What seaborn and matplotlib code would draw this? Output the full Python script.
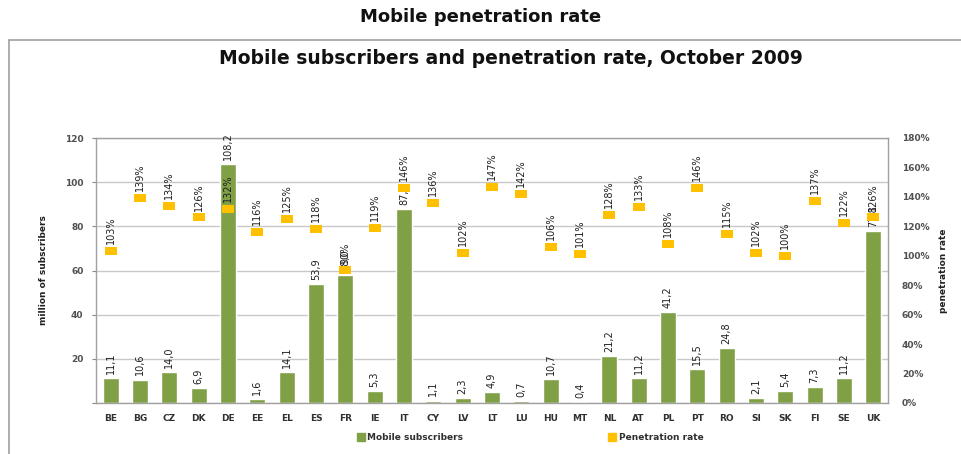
import pandas as pd
import matplotlib.pyplot as plt
import matplotlib.lines as mlines
import seaborn as sns

# data
countries = ['BE', 'BG', 'CZ', 'DK', 'DE', 'EE', 'EL', 'ES', 'FR', 'IE', 'IT', 'CY', 'LV', 'LT',
             'LU', 'HU', 'MT', 'NL', 'AT', 'PL', 'PT', 'RO', 'SI', 'SK', 'FI', 'SE', 'UK']
subscribers = [11.1, 10.6, 14.0, 6.9, 108.2, 1.6, 14.1, 53.9, 58.0, 5.3, 87.7, 1.1, 2.3, 4.9,
               0.7, 10.7, 0.4, 21.2, 11.2, 41.2, 15.5, 24.8, 2.1, 5.4, 7.3, 11.2, 77.8]
penetration = [103, 139, 134, 126, 132, 116, 125, 118, 90, 119, 146, 136, 102, 147,
               142, 106, 101, 128, 133, 108, 146, 115, 102, 100, 137, 122, 126]
left_ticks = [0, 20, 40, 60, 80, 100, 120]
right_ticks = [0, 20, 40, 60, 80, 100, 120, 140, 160, 180]

df = pd.DataFrame({'country': countries, 'subs': subscribers, 'pen': penetration})

green = '#80A046'
gold = '#FFC000'
narrow = ['Liberation Sans Narrow', 'DejaVu Sans Condensed', 'DejaVu Sans']

sns.set_style('white')
plt.rcParams['font.family'] = ['DejaVu Sans']

fig = plt.figure(figsize=(9.61, 4.54), dpi=100)
ax = fig.add_axes([96 / 961, 1 - 403 / 454, 792 / 961, 265 / 454])

# subscribers (left axis)
sns.barplot(data=df, x='country', y='subs', color=green, width=0.55, saturation=1, ax=ax)
ax.set_ylim(0, 120)
ax.set_xlim(-0.5, len(countries) - 0.5)
ax.set_yticks(left_ticks)
ax.set_yticklabels([str(t) if t else '' for t in left_ticks])
ax.yaxis.grid(True, color='#C8C8C8', lw=1)
ax.set_axisbelow(True)
ax.set_xlabel('')
ax.set_ylabel('million of subscribers', fontsize=6.5, fontweight='bold', labelpad=12,
              family=narrow, color='#202020')
ax.tick_params(axis='y', length=3, color='#888888', labelsize=6.5, labelcolor='#505050', pad=6)
ax.tick_params(axis='x', length=0, labelsize=6.5, labelcolor='#303030', pad=8)
for lab in ax.get_xticklabels() + ax.get_yticklabels():
    lab.set_fontweight('bold')
for s in ax.spines.values():
    s.set_color('#A0A0A0')
    s.set_linewidth(1)

for i, v in enumerate(subscribers):
    ax.annotate(f'{v:.1f}'.replace('.', ','), (i, v), xytext=(0, 3), textcoords='offset points',
                rotation=90, ha='center', va='bottom', fontsize=7, family=narrow, color='#202020')

# penetration rate (right axis)
ax2 = ax.twinx()
rect = [(-1.5, -1), (1.5, -1), (1.5, 1), (-1.5, 1), (-1.5, -1)]
sns.scatterplot(data=df, x='country', y='pen', marker=rect, s=70, color=gold, linewidth=0, ax=ax2)
ax2.set_ylim(0, 180)
ax2.set_yticks(right_ticks)
ax2.set_yticklabels([f'{t}%' for t in right_ticks])
ax2.set_ylabel('penetration rate', fontsize=6.5, fontweight='bold', labelpad=7,
               family=narrow, color='#202020')
ax2.tick_params(axis='y', length=0, labelsize=6.5, labelcolor='#505050', pad=10)
for lab in ax2.get_yticklabels():
    lab.set_fontweight('bold')
for s in ax2.spines.values():
    s.set_visible(False)

for i, p in enumerate(penetration):
    ax2.annotate(f'{p}%', (i, p), xytext=(0, 5), textcoords='offset points',
                 rotation=90, ha='center', va='bottom', fontsize=7, family=narrow, color='#202020')

handles = [mlines.Line2D([], [], ls='', marker='s', ms=5.5, color=green, label='Mobile subscribers'),
           mlines.Line2D([], [], ls='', marker='s', ms=5.5, color=gold, label='Penetration rate')]
leg = ax.legend(handles=handles, loc='center', bbox_to_anchor=(0.548, -0.13), ncol=2, frameon=False,
                prop={'size': 6.5, 'weight': 'bold'}, columnspacing=16, handletextpad=0.2,
                handlelength=1)
for t in leg.get_texts():
    t.set_color('#303030')

fig.text(0.5, 1 - 17 / 454, 'Mobile penetration rate', ha='center', va='center',
         fontsize=13, fontweight='bold', color='#111111')
fig.text(0.532, 1 - 58 / 454, 'Mobile subscribers and penetration rate, October 2009', ha='center',
         va='center', fontsize=13.5, fontweight='bold', color='#111111')

# outer frame (left and top edges visible)
fig.add_artist(mlines.Line2D([9 / 961, 9 / 961], [0, 1 - 40 / 454], transform=fig.transFigure,
                             color='#A0A0A0', lw=1.2))
fig.add_artist(mlines.Line2D([9 / 961, 1], [1 - 40 / 454, 1 - 40 / 454], transform=fig.transFigure,
                             color='#A0A0A0', lw=1.2))

fig.savefig('out.png', dpi=100)
